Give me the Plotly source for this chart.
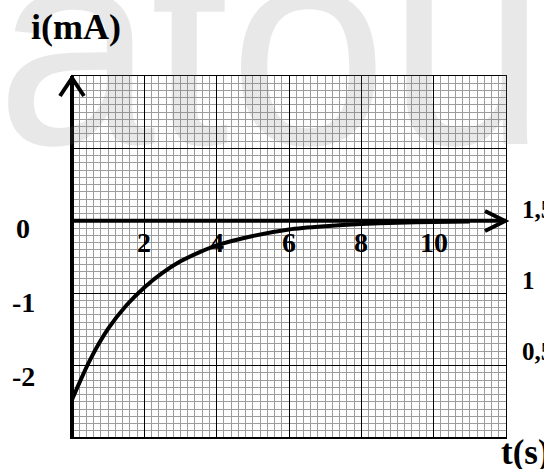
import plotly.graph_objects as go

# ---- data ----
t_s = [0, 0.5, 1, 1.5, 2, 2.5, 3, 3.5, 4, 5, 6, 7, 8, 9, 10, 11]
i_mA = [-2.47, -1.92, -1.49, -1.17, -0.92, -0.72, -0.56, -0.44, -0.34,
        -0.21, -0.12, -0.075, -0.045, -0.027, -0.017, -0.01]
x_tick_vals = [2, 4, 6, 8, 10]
x_tick_text = ["2", "4", "6", "8", "10"]
y_tick_vals = [0, -1, -2]
y_tick_text = ["0", "-1", "-2"]
side_labels = ["1,5", "1", "0,5"]
side_label_y = [0.15, -0.83, -1.8]
watermark_letters = ["a", "t", "o", "u"]

W, H = 544, 469
L, R, T, B = 72, 38, 76, 31
X_RANGE = [0, 12]
Y_RANGE = [-3, 2]


def px_x(px):
    return (px - L) / (W - L - R)


def px_y(py):
    return (H - B - py) / (H - T - B)


def dy_paper(v):
    return (v - Y_RANGE[0]) / (Y_RANGE[1] - Y_RANGE[0])


SERIF = "Liberation Serif, Times New Roman, serif"

fig = go.Figure()
fig.add_trace(go.Scatter(x=t_s, y=i_mA, mode="lines",
                         line=dict(color="black", width=4, shape="spline", smoothing=0.8),
                         hoverinfo="skip", showlegend=False))

annotations = []
# watermark
wm_centers = [76, 190, 308, 467]
for letter, cx in zip(watermark_letters, wm_centers):
    annotations.append(dict(text=letter, x=px_x(cx), y=px_y(45), xref="paper", yref="paper",
                            xanchor="center", yanchor="middle", showarrow=False,
                            font=dict(family="Liberation Sans, Arial, sans-serif", size=285,
                                      color="rgba(120,120,120,0.17)")))

for v, s in zip(x_tick_vals, x_tick_text):
    annotations.append(dict(text=s, x=v, y=0, xref="x", yref="y", yshift=-22,
                            xanchor="center", yanchor="middle", showarrow=False,
                            font=dict(family=SERIF, size=28, color="black", weight="bold")))
left_shift = [-8, -9, -11]
for v, s, sh in zip(y_tick_vals, y_tick_text, left_shift):
    annotations.append(dict(text=s, x=px_x(23), y=v, xref="paper", yref="y", yshift=sh,
                            xanchor="center", yanchor="middle", showarrow=False,
                            font=dict(family=SERIF, size=28, color="black", weight="bold")))
for v, s in zip(side_label_y, side_labels):
    annotations.append(dict(text=s, x=px_x(520), y=v, xref="paper", yref="y",
                            xanchor="left", yanchor="middle", showarrow=False,
                            font=dict(family=SERIF, size=25, color="black", weight="bold")))
annotations.append(dict(text="i(mA)", x=px_x(29), y=px_y(27), xref="paper", yref="paper",
                        xanchor="left", yanchor="middle", showarrow=False,
                        font=dict(family=SERIF, size=36, color="black", weight="bold")))
annotations.append(dict(text="t(s)", x=px_x(499), y=px_y(452), xref="paper", yref="paper",
                        xanchor="left", yanchor="middle", showarrow=False,
                        font=dict(family=SERIF, size=35, color="black", weight="bold")))

y0 = dy_paper(0)
shapes = [
    # vertical axis
    dict(type="line", xref="paper", yref="paper", x0=0, x1=0, y0=-0.003, y1=1,
         line=dict(color="black", width=4)),
    # y arrow head
    dict(type="path", xref="paper", yref="paper",
         path=f"M {px_x(60)} {px_y(96)} L {px_x(72)} {px_y(78)} L {px_x(84)} {px_y(96)}",
         line=dict(color="black", width=4)),
    # time axis
    dict(type="line", xref="paper", yref="paper", x0=0, x1=1, y0=y0, y1=y0,
         line=dict(color="black", width=4)),
    dict(type="path", xref="paper", yref="paper",
         path=f"M {px_x(485)} {px_y(211)} L {px_x(505)} {px_y(221)} L {px_x(485)} {px_y(231)}",
         line=dict(color="black", width=4)),
    # bottom border thicker
    dict(type="line", xref="paper", yref="paper", x0=0, x1=1, y0=0, y1=0,
         line=dict(color="black", width=2)),
]

grid_minor_color = "#9c9c9c"
fig.update_layout(
    width=W, height=H, margin=dict(l=L, r=R, t=T, b=B, pad=0),
    paper_bgcolor="white", plot_bgcolor="white",
    xaxis=dict(range=X_RANGE, dtick=2, tick0=0, showgrid=True, gridcolor="black", gridwidth=1,
               showticklabels=False, ticks="", zeroline=False,
               showline=True, mirror=True, linecolor="black", linewidth=1,
               minor=dict(dtick=0.2, tick0=0, showgrid=True, gridcolor=grid_minor_color, gridwidth=1, ticks="")),
    yaxis=dict(range=Y_RANGE, dtick=1, tick0=0, showgrid=True, gridcolor="black", gridwidth=1,
               showticklabels=False, ticks="", zeroline=False,
               showline=True, mirror=True, linecolor="black", linewidth=1,
               minor=dict(dtick=0.1, tick0=0, showgrid=True, gridcolor=grid_minor_color, gridwidth=1, ticks="")),
    annotations=annotations, shapes=shapes, showlegend=False,
)
fig.write_html("out.html", config={"displayModeBar": False})

# remove the browser's default page margin so the figure sits at (0, 0)
with open("out.html", "r", encoding="utf-8") as f:
    html = f.read()
html = html.replace("<head>", "<head><style>html,body{margin:0;padding:0;overflow:hidden}</style>", 1)
with open("out.html", "w", encoding="utf-8") as f:
    f.write(html)
